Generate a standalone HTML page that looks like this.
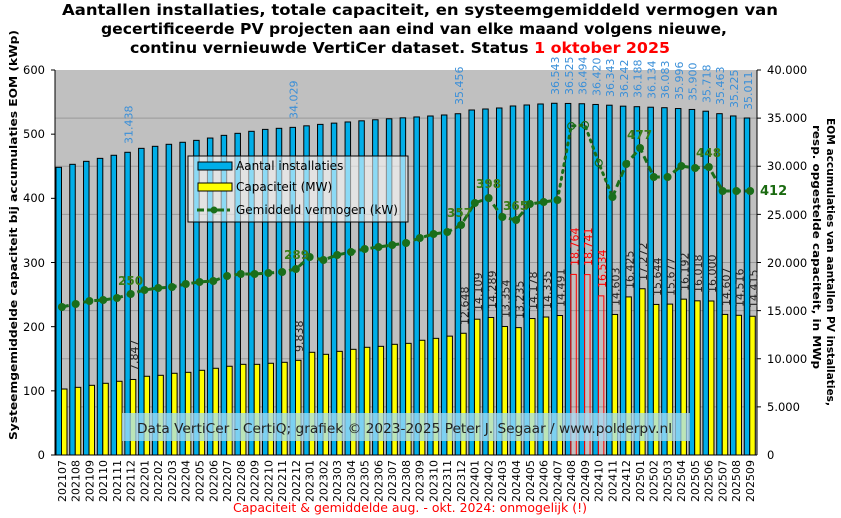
<!DOCTYPE html>
<html><head><meta charset="utf-8"><style>
html,body{margin:0;padding:0;background:#fff}
svg{display:block}
text{font-family:"DejaVu Sans","Liberation Sans",sans-serif}
</style></head><body>
<svg id="s" width="841" height="518" viewBox="0 0 841 518" xmlns="http://www.w3.org/2000/svg">
<rect x="55" y="70" width="702" height="385" fill="#c0c0c0"/>
<g id="grid" stroke="#999" stroke-width="1"></g>
<g id="bars"></g>
<g id="line"></g>
<line x1="55" y1="70" x2="55" y2="455" stroke="#000"/>
<line x1="757" y1="70" x2="757" y2="455" stroke="#000"/>
<line x1="55" y1="455" x2="757" y2="455" stroke="#000"/>
<g id="ticks" stroke="#000"></g>

<g font-size="15" font-weight="bold" text-anchor="middle">
<text x="420" y="15" textLength="716" lengthAdjust="spacingAndGlyphs">Aantallen installaties, totale capaciteit, en systeemgemiddeld vermogen van</text>
<text x="414" y="34" textLength="626" lengthAdjust="spacingAndGlyphs">gecertificeerde PV projecten aan eind van elke maand volgens nieuwe,</text>
<text x="400" y="53" textLength="540" lengthAdjust="spacingAndGlyphs">continu vernieuwde VertiCer dataset. Status <tspan fill="#f00">1 oktober 2025</tspan></text>
</g>

<g font-size="11.5" fill="#000" text-anchor="end">
<text x="45" y="459">0</text><text x="45" y="395">100</text><text x="45" y="331">200</text><text x="45" y="267">300</text><text x="45" y="202">400</text><text x="45" y="138">500</text><text x="45" y="74">600</text>
</g>
<g font-size="11.5" fill="#000">
<text x="767" y="459">0</text><text x="767" y="411">5.000</text><text x="767" y="363">10.000</text><text x="767" y="315">15.000</text><text x="767" y="267">20.000</text><text x="767" y="219">25.000</text><text x="767" y="170">30.000</text><text x="767" y="122">35.000</text><text x="767" y="74">40.000</text>
</g>

<text transform="translate(17,235) rotate(-90)" font-size="11" font-weight="bold" text-anchor="middle" textLength="410" lengthAdjust="spacingAndGlyphs">Systeemgemiddelde capaciteit bij accumulaties EOM (kWp)</text>
<text transform="translate(827,262) rotate(90)" font-size="11" font-weight="bold" text-anchor="middle" textLength="288" lengthAdjust="spacingAndGlyphs">EOM accumulaties van aantallen PV installaties,</text>
<text transform="translate(813,247) rotate(90)" font-size="11" font-weight="bold" text-anchor="middle" textLength="244" lengthAdjust="spacingAndGlyphs">resp. opgestelde capaciteit, in MWp</text>

<g font-size="11" fill="#000" text-anchor="end">
<text transform="translate(65.9,460) rotate(-90)">202107</text>
<text transform="translate(79.6,460) rotate(-90)">202108</text>
<text transform="translate(93.4,460) rotate(-90)">202109</text>
<text transform="translate(107.2,460) rotate(-90)">202110</text>
<text transform="translate(120.9,460) rotate(-90)">202111</text>
<text transform="translate(134.7,460) rotate(-90)">202112</text>
<text transform="translate(148.4,460) rotate(-90)">202201</text>
<text transform="translate(162.2,460) rotate(-90)">202202</text>
<text transform="translate(176.0,460) rotate(-90)">202203</text>
<text transform="translate(189.7,460) rotate(-90)">202204</text>
<text transform="translate(203.5,460) rotate(-90)">202205</text>
<text transform="translate(217.3,460) rotate(-90)">202206</text>
<text transform="translate(231.0,460) rotate(-90)">202207</text>
<text transform="translate(244.8,460) rotate(-90)">202208</text>
<text transform="translate(258.5,460) rotate(-90)">202209</text>
<text transform="translate(272.3,460) rotate(-90)">202210</text>
<text transform="translate(286.1,460) rotate(-90)">202211</text>
<text transform="translate(299.8,460) rotate(-90)">202212</text>
<text transform="translate(313.6,460) rotate(-90)">202301</text>
<text transform="translate(327.3,460) rotate(-90)">202302</text>
<text transform="translate(341.1,460) rotate(-90)">202303</text>
<text transform="translate(354.9,460) rotate(-90)">202304</text>
<text transform="translate(368.6,460) rotate(-90)">202305</text>
<text transform="translate(382.4,460) rotate(-90)">202306</text>
<text transform="translate(396.1,460) rotate(-90)">202307</text>
<text transform="translate(409.9,460) rotate(-90)">202308</text>
<text transform="translate(423.7,460) rotate(-90)">202309</text>
<text transform="translate(437.4,460) rotate(-90)">202310</text>
<text transform="translate(451.2,460) rotate(-90)">202311</text>
<text transform="translate(465.0,460) rotate(-90)">202312</text>
<text transform="translate(478.7,460) rotate(-90)">202401</text>
<text transform="translate(492.5,460) rotate(-90)">202402</text>
<text transform="translate(506.2,460) rotate(-90)">202403</text>
<text transform="translate(520.0,460) rotate(-90)">202404</text>
<text transform="translate(533.8,460) rotate(-90)">202405</text>
<text transform="translate(547.5,460) rotate(-90)">202406</text>
<text transform="translate(561.3,460) rotate(-90)">202407</text>
<text transform="translate(575.0,460) rotate(-90)">202408</text>
<text transform="translate(588.8,460) rotate(-90)">202409</text>
<text transform="translate(602.6,460) rotate(-90)">202410</text>
<text transform="translate(616.3,460) rotate(-90)">202411</text>
<text transform="translate(630.1,460) rotate(-90)">202412</text>
<text transform="translate(643.9,460) rotate(-90)">202501</text>
<text transform="translate(657.6,460) rotate(-90)">202502</text>
<text transform="translate(671.4,460) rotate(-90)">202503</text>
<text transform="translate(685.1,460) rotate(-90)">202504</text>
<text transform="translate(698.9,460) rotate(-90)">202505</text>
<text transform="translate(712.7,460) rotate(-90)">202506</text>
<text transform="translate(726.4,460) rotate(-90)">202507</text>
<text transform="translate(740.2,460) rotate(-90)">202508</text>
<text transform="translate(753.9,460) rotate(-90)">202509</text>
</g>

<g font-size="11" fill="#3a8fd8">
<text transform="translate(132.6,144) rotate(-90)">31.438</text>
<text transform="translate(297.7,119) rotate(-90)">34.029</text>
<text transform="translate(462.8,105) rotate(-90)">35.456</text>
<text transform="translate(559.1,95) rotate(-90)">36.543</text>
<text transform="translate(572.9,95) rotate(-90)">36.525</text>
<text transform="translate(586.6,95) rotate(-90)">36.494</text>
<text transform="translate(600.4,96) rotate(-90)">36.420</text>
<text transform="translate(614.2,97) rotate(-90)">36.343</text>
<text transform="translate(627.9,98) rotate(-90)">36.242</text>
<text transform="translate(641.7,98) rotate(-90)">36.188</text>
<text transform="translate(655.4,99) rotate(-90)">36.134</text>
<text transform="translate(669.2,99) rotate(-90)">36.083</text>
<text transform="translate(683.0,100) rotate(-90)">35.996</text>
<text transform="translate(696.7,101) rotate(-90)">35.900</text>
<text transform="translate(710.5,103) rotate(-90)">35.718</text>
<text transform="translate(724.2,105) rotate(-90)">35.463</text>
<text transform="translate(738.0,108) rotate(-90)">35.225</text>
<text transform="translate(751.8,110) rotate(-90)">35.011</text>
</g>
<g font-size="11" fill="#222">
<text transform="translate(138.1,371) rotate(-90)">7.847</text>
<text transform="translate(303.2,352) rotate(-90)">9.838</text>
<text transform="translate(468.3,325) rotate(-90)">12.648</text>
<text transform="translate(482.1,311) rotate(-90)">14.109</text>
<text transform="translate(495.8,309) rotate(-90)">14.289</text>
<text transform="translate(509.6,318) rotate(-90)">13.354</text>
<text transform="translate(523.3,319) rotate(-90)">13.235</text>
<text transform="translate(537.1,310) rotate(-90)">14.178</text>
<text transform="translate(550.9,309) rotate(-90)">14.335</text>
<text transform="translate(564.6,307) rotate(-90)">14.491</text>
<text transform="translate(578.4,266) rotate(-90)" fill="#f00">18.764</text>
<text transform="translate(592.1,266) rotate(-90)" fill="#f00">18.741</text>
<text transform="translate(605.9,288) rotate(-90)" fill="#f00">16.534</text>
<text transform="translate(619.7,306) rotate(-90)">14.603</text>
<text transform="translate(633.4,289) rotate(-90)">16.425</text>
<text transform="translate(647.2,281) rotate(-90)">17.272</text>
<text transform="translate(661.0,296) rotate(-90)">15.644</text>
<text transform="translate(674.7,296) rotate(-90)">15.677</text>
<text transform="translate(688.5,291) rotate(-90)">16.192</text>
<text transform="translate(702.2,293) rotate(-90)">16.018</text>
<text transform="translate(716.0,293) rotate(-90)">16.000</text>
<text transform="translate(729.8,306) rotate(-90)">14.607</text>
<text transform="translate(743.5,307) rotate(-90)">14.516</text>
<text transform="translate(757.3,308) rotate(-90)">14.415</text>
</g>

<g font-size="12" font-weight="bold" fill="#3a7d18" font-family="Liberation Serif">
<text x="118" y="285">250</text>
<text x="284" y="259">289</text>
<text x="447" y="217">357</text>
<text x="476" y="188">398</text>
<text x="503" y="210">365</text>
<text x="627" y="139">477</text>
<text x="696" y="157">448</text>
</g>
<text x="760" y="195" font-size="13" font-weight="bold" fill="#1a6a10">412</text>

<rect x="188" y="156" width="220" height="66" fill="#fff" fill-opacity="0.55" stroke="#000"/>
<rect x="198" y="162" width="34" height="8" fill="#00aee8" stroke="#000"/>
<text x="236" y="170" font-size="12">Aantal installaties</text>
<rect x="198" y="183" width="34" height="8" fill="#ffff00" stroke="#000"/>
<text x="236" y="191" font-size="12">Capaciteit (MW)</text>
<line x1="197" y1="210" x2="230" y2="210" stroke="#1a6e1a" stroke-width="3" stroke-dasharray="7,3"/>
<circle cx="214" cy="210" r="3.5" fill="#1a6e1a"/>
<text x="236" y="214" font-size="12">Gemiddeld vermogen (kW)</text>

<rect x="122" y="413" width="568" height="28" fill="#a6dcf5" fill-opacity="0.75"/>
<text x="137" y="433" font-size="13" fill="#222" textLength="535" lengthAdjust="spacingAndGlyphs">Data VertiCer  - CertiQ; grafiek  © 2023-2025  Peter J. Segaar / www.polderpv.nl</text>

<text x="410" y="512" font-size="12.5" fill="#f00" text-anchor="middle">Capaciteit &amp; gemiddelde aug. - okt. 2024: onmogelijk (!)</text>
</svg>
<script>
(function(){
var NS="http://www.w3.org/2000/svg";
function el(p,t,a){var e=document.createElementNS(NS,t);for(var k in a)e.setAttribute(k,a[k]);p.appendChild(e);return e;}
var grid=document.getElementById('grid'),bars=document.getElementById('bars'),ln=document.getElementById('line'),tk=document.getElementById('ticks');
for(var k=1;k<8;k++){var y=455-k*48.125;el(grid,'line',{x1:55,x2:757,y1:y,y2:y});el(tk,'line',{x1:757,x2:761,y1:y,y2:y});}
el(tk,'line',{x1:757,x2:761,y1:70,y2:70});
for(var k=0;k<=6;k++){var y=455-k*64.167;el(tk,'line',{x1:51,x2:55,y1:y,y2:y});}
var inst=[29890,30200,30510,30820,31140,31450,31860,32070,32280,32490,32690,32930,33210,33420,33630,33830,33940,34040,34200,34350,34480,34600,34720,34830,34930,35030,35120,35220,35325,35456,35844,35948,36052,36260,36364,36468,36543,36525,36494,36420,36343,36242,36188,36134,36083,35996,35900,35718,35463,35225,35011];
var cap=[6857,7030,7240,7450,7660,7847,8180,8280,8490,8590,8800,9010,9220,9420,9420,9530,9630,9838,10670,10460,10770,10980,11190,11290,11500,11600,11920,12120,12350,12648,14109,14289,13354,13235,14178,14335,14491,18764,18741,16534,14603,16425,17272,15644,15677,16192,16018,16000,14607,14516,14415];
var ly=[307,304,301,300,298,294,290,288,287,284,282,281,276,274,274,273,272,269,257,260,255,252,249,247,245,243,238,234,232,225,203,198,217,220,204,202,200,126,125,163,197,164,148,177,177,166,168,167,191,191,191];
var sw=13.765;
for(var i=0;i<51;i++){
 var s=55+i*sw;
 var yt=455-inst[i]*0.009625;
 el(bars,'rect',{x:s+1,y:yt,width:5.5,height:455-yt,fill:'#00aee8',stroke:'#000','stroke-width':1});
 var yc=455-cap[i]*0.009625;
 var red=(i>=37&&i<=39);
 el(bars,'rect',{x:s+6.5,y:yc,width:5.5,height:455-yc,fill:red?'none':'#ffff00',stroke:red?'#f00':'#000','stroke-width':1});
}
function cx(i){return 55+i*sw+6.9;}
var d1='',d2='',d3='';
for(var i=0;i<=36;i++)d1+=(i?'L':'M')+cx(i)+' '+ly[i];
for(var i=36;i<=40;i++)d2+=(i>36?'L':'M')+cx(i)+' '+ly[i];
for(var i=40;i<51;i++)d3+=(i>40?'L':'M')+cx(i)+' '+ly[i];
el(ln,'path',{d:d1,fill:'none',stroke:'#1a6e1a','stroke-width':3,'stroke-dasharray':'7,4'});
el(ln,'path',{d:d2,fill:'none',stroke:'#1a6e1a','stroke-width':3,'stroke-dasharray':'2,5','stroke-linecap':'round'});
el(ln,'path',{d:d3,fill:'none',stroke:'#1a6e1a','stroke-width':3,'stroke-dasharray':'7,4'});
for(var i=0;i<51;i++){
 var h=(i>=37&&i<=39);
 el(ln,'circle',{cx:cx(i),cy:ly[i],r:h?3.5:4,fill:h?'none':'#1a6e1a',stroke:'#1a6e1a','stroke-width':h?1.2:0});
}
})();
</script>
</body></html>
